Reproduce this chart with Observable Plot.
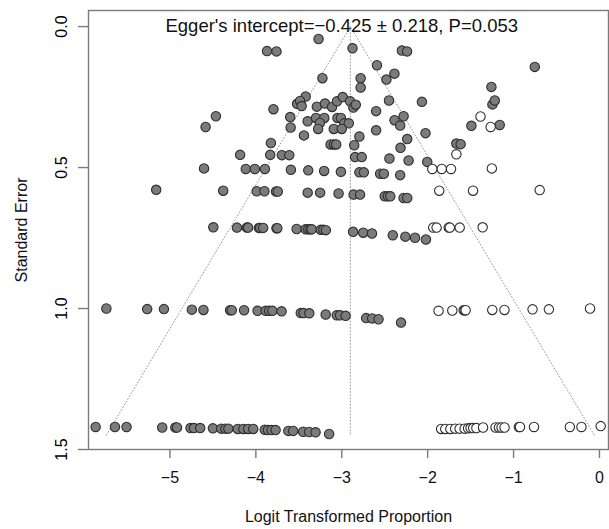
<!DOCTYPE html>
<html>
<head>
<meta charset="utf-8">
<script src="https://cdn.jsdelivr.net/npm/d3@7"></script>
<script src="https://cdn.jsdelivr.net/npm/@observablehq/plot@0.6"></script>
<style>
  html, body { margin: 0; padding: 0; background: #fff; }
  svg { font-family: "Liberation Sans", Arial, sans-serif; display: block; }
</style>
</head>
<body>
<div id="chart"></div>
<script>
// Observed studies (filled): logit proportion and standard error
const observedLogit = [
  -3.27, -3.87, -3.76, -2.875, -2.30, -2.24, -2.59, -0.753, -3.225, -2.78,
  -2.78, -2.48, -2.387, -1.258, -3.42, -3.52, -3.485, -3.467, -3.29, -3.195,
  -3.113, -3.055, -2.988, -2.903, -2.865, -2.837, -3.795, -2.45, -2.067, -1.246,
  -1.219, -3.60, -4.465, -4.585, -3.397, -3.30, -3.203, -3.255, -3.275, -3.44,
  -3.05, -3.01, -2.97, -2.918, -3.093, -3.0, -3.595, -2.60, -2.60, -2.795,
  -2.855, -3.13, -3.09, -3.065, -3.825, -4.183, -3.833, -3.697, -3.611, -2.845,
  -2.767, -2.445, -2.316, -2.386, -2.32, -2.28, -2.025, -2.238, -2.222, -2.005,
  -1.491, -1.161, -1.666, -1.616,
  // SE ~0.5
  -4.603, -4.117, -4.012, -3.895, -3.592, -3.39, -3.205, -3.01, -2.795, -2.743,
  -2.553, -2.51, -2.32,
  // SE ~0.58
  -5.16, -4.38, -3.99, -3.90, -3.765, -3.745, -3.397, -3.252, -3.037, -2.862,
  -2.787, -2.50, -2.463, -2.435, -2.28, -2.238,
  // SE ~0.72
  -4.495, -4.22, -4.105, -4.09, -3.965, -3.95, -3.915, -3.76, -3.75, -3.525,
  -3.42, -3.39, -3.365, -3.35, -3.245, -3.215, -3.185, -2.868, -2.75, -2.648,
  -2.406, -2.26, -2.147, -2.02,
  // SE ~1.0
  -5.74, -5.265, -5.07, -4.745, -4.61, -4.30, -4.28, -4.137, -3.98, -3.885,
  -3.845, -3.808, -3.70, -3.477, -3.445, -3.378, -3.187, -3.058, -3.02, -2.955,
  -2.716, -2.646, -2.572, -2.31,
  // SE ~1.43
  -5.865, -5.64, -5.505, -5.09, -4.937, -4.918, -4.76, -4.72, -4.648, -4.50,
  -4.403, -4.355, -4.32, -4.21, -4.145, -4.09, -4.03, -3.896, -3.86, -3.817,
  -3.77, -3.622, -3.566, -3.45, -3.38, -3.305, -3.147
];
const observedSE = [
  0.044, 0.087, 0.088, 0.077, 0.085, 0.088, 0.137, 0.143, 0.183, 0.183,
  0.216, 0.188, 0.167, 0.214, 0.248, 0.274, 0.264, 0.282, 0.284, 0.273,
  0.285, 0.265, 0.250, 0.265, 0.287, 0.277, 0.293, 0.262, 0.267, 0.276,
  0.262, 0.321, 0.318, 0.356, 0.336, 0.324, 0.324, 0.342, 0.363, 0.386,
  0.324, 0.324, 0.343, 0.343, 0.363, 0.363, 0.358, 0.300, 0.368, 0.390,
  0.421, 0.418, 0.418, 0.418, 0.413, 0.455, 0.455, 0.456, 0.456, 0.463,
  0.463, 0.468, 0.430, 0.332, 0.351, 0.318, 0.378, 0.399, 0.475, 0.480,
  0.352, 0.349, 0.415, 0.417,
  0.503, 0.505, 0.505, 0.505, 0.508, 0.510, 0.512, 0.515, 0.517, 0.517,
  0.522, 0.522, 0.527,
  0.579, 0.582, 0.584, 0.584, 0.585, 0.585, 0.589, 0.589, 0.592, 0.596,
  0.596, 0.602, 0.602, 0.602, 0.608, 0.608,
  0.712, 0.713, 0.713, 0.713, 0.714, 0.714, 0.714, 0.715, 0.715, 0.718,
  0.719, 0.719, 0.719, 0.719, 0.721, 0.721, 0.722, 0.728, 0.731, 0.734,
  0.740, 0.745, 0.749, 0.755,
  1.000, 1.002, 1.002, 1.004, 1.005, 1.006, 1.006, 1.006, 1.008, 1.008,
  1.008, 1.008, 1.010, 1.016, 1.016, 1.017, 1.021, 1.024, 1.024, 1.026,
  1.034, 1.035, 1.038, 1.050,
  1.420, 1.420, 1.420, 1.422, 1.422, 1.422, 1.424, 1.424, 1.424, 1.425,
  1.426, 1.426, 1.426, 1.427, 1.427, 1.427, 1.427, 1.430, 1.431, 1.431,
  1.431, 1.434, 1.434, 1.437, 1.438, 1.439, 1.445
];

// Imputed studies (open, trim-and-fill)
const imputedLogit = [
  -1.385, -1.267, -1.666,
  -1.946, -1.836, -1.728, -1.253,
  -1.865, -1.472, -0.696,
  -1.935, -1.896, -1.755, -1.742, -1.627, -1.36,
  -1.873, -1.713, -1.581, -1.569, -1.558, -1.248, -1.106, -0.779, -0.589, -0.11,
  -1.843, -1.795, -1.736, -1.68, -1.628, -1.57, -1.53, -1.50, -1.47, -1.433,
  -1.355, -1.21, -1.17, -1.14, -1.105, -0.938, -0.925, -0.762, -0.345, -0.21, 0.014
];
const imputedSE = [
  0.319, 0.356, 0.453,
  0.505, 0.505, 0.505, 0.503,
  0.582, 0.582, 0.580,
  0.713, 0.713, 0.713, 0.713, 0.713, 0.712,
  1.008, 1.007, 1.006, 1.006, 1.006, 1.005, 1.005, 1.003, 1.003, 1.000,
  1.427, 1.427, 1.427, 1.426, 1.426, 1.426, 1.425, 1.424, 1.424, 1.424,
  1.422, 1.422, 1.422, 1.422, 1.422, 1.420, 1.420, 1.420, 1.420, 1.420, 1.417
];

// Funnel (pseudo 95% limits) and summary line
const funnelLogit = [-5.74, -2.90, -0.06];
const funnelSE = [1.449, 0, 1.449];
const centerLogit = [-2.90, -2.90];
const centerSE = [0, 1.449];

const xTicks = [-5, -4, -3, -2, -1, 0];
const yTicks = [0, 0.5, 1.0, 1.5];
const eggerText = "Egger's intercept=\u22120.425 \u00b1 0.218, P=0.053";
const xTitle = "Logit Transformed Proportion";
const yTitle = "Standard Error";

const observed = observedLogit.map((x, i) => ({x, y: observedSE[i]}));
const imputed = imputedLogit.map((x, i) => ({x, y: imputedSE[i]}));
const funnel = funnelLogit.map((x, i) => ({x, y: funnelSE[i]}));
const center = centerLogit.map((x, i) => ({x, y: centerSE[i]}));

const minus = d => d < 0 ? "\u2212" + Math.abs(d) : String(d);

const chart = Plot.plot({
  width: 609,
  height: 529,
  marginLeft: 88,
  marginRight: 1,
  marginTop: 10,
  marginBottom: 80,
  style: {fontFamily: "'Liberation Sans', Arial, sans-serif", background: "#fff"},
  x: {domain: [-5.948, 0.105], label: null},
  y: {domain: [-0.057, 1.5], reverse: true, label: null},
  marks: [
    Plot.line(funnel, {x: "x", y: "y", stroke: "#9a9a9a", strokeWidth: 1, strokeDasharray: "1,2.2"}),
    Plot.line(center, {x: "x", y: "y", stroke: "#9a9a9a", strokeWidth: 1, strokeDasharray: "1,2.2"}),
    Plot.dot(observed, {x: "x", y: "y", r: 4.7, fill: "#7b7b7b", stroke: "#2e2e2e", strokeWidth: 1.1}),
    Plot.dot(imputed, {x: "x", y: "y", r: 4.7, fill: "#ffffff", stroke: "#2e2e2e", strokeWidth: 1.1}),
    Plot.text([eggerText], {x: () => -3, y: () => 0, text: d => d, fontSize: 18.5, fill: "#111", lineAnchor: "middle"}),
    Plot.frame({stroke: "#7a7a7a", strokeWidth: 1.4}),
    Plot.axisX({ticks: xTicks, tickFormat: minus, tickSize: 9, tickPadding: 13, fontSize: 16, stroke: "#7a7a7a", strokeWidth: 1.4, color: "#111", label: null}),
    Plot.axisY({ticks: yTicks, tickFormat: d3.format(".1f"), tickSize: 10, tickPadding: 12, tickRotate: -90, fontSize: 16, stroke: "#7a7a7a", strokeWidth: 1.4, label: null}),
    Plot.text([xTitle], {frameAnchor: "bottom", text: d => d, dy: 67, fontSize: 16, fill: "#111", textAnchor: "middle", lineAnchor: "middle"}),
    Plot.text([yTitle], {frameAnchor: "left", text: d => d, dx: -67, rotate: -90, fontSize: 16, fill: "#111", textAnchor: "middle", lineAnchor: "middle"})
  ]
});
document.getElementById("chart").appendChild(chart);
</script>
</body>
</html>
